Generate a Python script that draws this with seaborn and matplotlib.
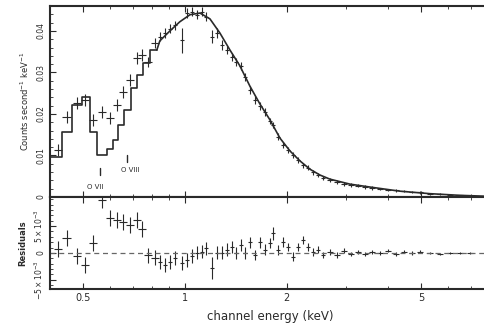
import matplotlib
matplotlib.use("Agg")
import matplotlib.pyplot as plt
import seaborn as sns
from matplotlib.ticker import FixedLocator, MultipleLocator, NullFormatter, FixedFormatter

# ---------------- data ----------------
energy = [0.421, 0.447, 0.479, 0.506, 0.534, 0.568, 0.600, 0.629, 0.655, 0.688, 0.721, 0.746, 0.777, 0.815,
          0.843, 0.873, 0.903, 0.934, 0.980, 1.014, 1.049, 1.085, 1.123, 1.154,
          1.202, 1.244, 1.287, 1.331, 1.378, 1.416, 1.465, 1.505, 1.557, 1.611,
          1.667, 1.725, 1.784, 1.821, 1.884, 1.950, 2.017, 2.087, 2.160, 2.235,
          2.312, 2.392, 2.475, 2.561,
          2.685, 2.817, 2.954, 3.098, 3.250, 3.408, 3.575, 3.776, 3.988, 4.212,
          4.448, 4.698, 4.962, 5.308, 5.678, 6.081, 6.511, 6.969]
energy_halfwidth = [0.012, 0.013, 0.013, 0.014, 0.015, 0.016, 0.017, 0.018, 0.018, 0.019, 0.020, 0.021, 0.022, 0.023,
                    0.013, 0.013, 0.014, 0.014, 0.015, 0.015, 0.016, 0.016, 0.017, 0.017,
                    0.018, 0.019, 0.019, 0.020, 0.021, 0.021, 0.022, 0.023, 0.023, 0.024,
                    0.025, 0.026, 0.027, 0.027, 0.028, 0.029, 0.030, 0.031, 0.032, 0.034,
                    0.035, 0.036, 0.037, 0.038,
                    0.054, 0.056, 0.059, 0.062, 0.065, 0.068, 0.072, 0.076, 0.080, 0.084,
                    0.089, 0.094, 0.099, 0.106, 0.114, 0.122, 0.130, 0.139]
counts = [0.0113, 0.0193, 0.0227, 0.0234, 0.0186, 0.0205, 0.0190, 0.0222, 0.0253, 0.0282, 0.0335, 0.0342, 0.0325, 0.0371,
          0.0386, 0.0395, 0.0405, 0.0414, 0.0378, 0.0443, 0.0446, 0.0439, 0.0446, 0.0434,
          0.0386, 0.0395, 0.0366, 0.0354, 0.0337, 0.0325, 0.0316, 0.0289, 0.0258, 0.0234,
          0.0219, 0.0205, 0.0183, 0.0173, 0.0145, 0.0125, 0.0113, 0.0101, 0.0089, 0.0077,
          0.0070, 0.0060, 0.0053, 0.0046,
          0.0041, 0.0036, 0.0031, 0.0029, 0.0027, 0.0024, 0.0022, 0.0019, 0.0017, 0.0016,
          0.0014, 0.0012, 0.0011, 0.0008, 0.0007, 0.0005, 0.0004, 0.0002]
counts_err = [0.0014, 0.0014, 0.0014, 0.0014, 0.0014, 0.0014, 0.0014, 0.0014, 0.0014, 0.0014, 0.0014, 0.0014, 0.0013, 0.0013,
              0.0011, 0.0011, 0.0011, 0.0011, 0.0030, 0.0011, 0.0011, 0.0011, 0.0011, 0.0011,
              0.0015, 0.0011, 0.0011, 0.0010, 0.0010, 0.0010, 0.0010, 0.0010, 0.0009, 0.0009,
              0.0009, 0.0009, 0.0008, 0.0008, 0.0008, 0.0008, 0.0007, 0.0007, 0.0007, 0.0006,
              0.0006, 0.0006, 0.0005, 0.0005,
              0.0005, 0.0005, 0.0004, 0.0004, 0.0004, 0.0004, 0.0004, 0.0003, 0.0003, 0.0003,
              0.0003, 0.0003, 0.0003, 0.0002, 0.0002, 0.0002, 0.0002, 0.0002]
residual = [0.0007, 0.0028, -0.0006, -0.0022, 0.0018, 0.0098, 0.0065, 0.0061, 0.0057, 0.0052, 0.0061, 0.0044, -0.0004, -0.0009,
            -0.0017, -0.0022, -0.0017, -0.0009, -0.0019, -0.0013, -0.0006, 0.0000, 0.0002, 0.0009,
            -0.0028, 0.0000, 0.0000, 0.0006, 0.0011, 0.0000, 0.0015, 0.0000, 0.0020, -0.0004,
            0.0020, 0.0006, 0.0019, 0.0037, 0.0006, 0.0020, 0.0011, -0.0007, 0.0011, 0.0024,
            0.0011, 0.0002, 0.0006, -0.0004,
            0.0002, -0.0004, 0.0004, -0.0002, 0.0002, -0.0002, 0.0002, 0.0000, 0.0004, -0.0002,
            0.0002, 0.0000, 0.0002, 0.0000, -0.0002, 0.0000, 0.0000, 0.0000]
residual_err = [0.0015, 0.0015, 0.0015, 0.0015, 0.0015, 0.0015, 0.0015, 0.0015, 0.0015, 0.0015, 0.0015, 0.0015, 0.0014, 0.0014,
                0.0013, 0.0013, 0.0013, 0.0013, 0.0013, 0.0013, 0.0013, 0.0012, 0.0012, 0.0012,
                0.0020, 0.0012, 0.0012, 0.0012, 0.0011, 0.0011, 0.0011, 0.0011, 0.0010, 0.0010,
                0.0010, 0.0010, 0.0009, 0.0012, 0.0009, 0.0009, 0.0008, 0.0008, 0.0008, 0.0008,
                0.0007, 0.0007, 0.0006, 0.0006,
                0.0005, 0.0005, 0.0005, 0.0004, 0.0004, 0.0004, 0.0004, 0.0003, 0.0003, 0.0003,
                0.0003, 0.0003, 0.0003, 0.0002, 0.0002, 0.0002, 0.0002, 0.0002]

model_step_edges = [0.399, 0.433, 0.463, 0.496, 0.524, 0.549, 0.588, 0.612, 0.634, 0.660, 0.692, 0.721, 0.751, 0.788, 0.826]
model_step_values = [0.0096, 0.0157, 0.0222, 0.0241, 0.0157, 0.0101, 0.0116, 0.0137, 0.0173, 0.0210, 0.0263, 0.0294, 0.0323, 0.0354]
model_line_energy = [0.826, 0.843, 0.903, 0.966, 1.035, 1.108, 1.186, 1.269, 1.359, 1.454, 1.557, 1.667, 1.784,
                     1.910, 2.045, 2.189, 2.343, 2.508, 2.685, 3.077, 3.526, 4.326, 5.307, 6.511, 7.665, 8.0]
model_line_values = [0.0354, 0.0376, 0.0400, 0.0422, 0.0439, 0.0443, 0.0429, 0.0395, 0.0354, 0.0316, 0.0267, 0.0224, 0.0186,
                     0.0142, 0.0111, 0.0087, 0.0067, 0.0053, 0.0043, 0.0031, 0.0024, 0.0014, 0.0008, 0.0004, 0.0002, 0.0002]

line_labels = ["O VII", "O VIII"]
line_energies = [0.560, 0.674]

x_ticks = [0.5, 1, 2, 5]
x_tick_labels = ["0.5", "1", "2", "5"]
x_minor = [0.4, 0.6, 0.7, 0.8, 0.9, 3, 4, 6, 7, 8]
y_ticks_top = [0, 0.01, 0.02, 0.03, 0.04]
y_tick_labels_top = ["0", "0.01", "0.02", "0.03", "0.04"]
y_ticks_res = [-0.005, 0, 0.005]
y_tick_labels_res = [r"$-5\times10^{-3}$", "0", r"$5\times10^{-3}$"]

# ---------------- figure ----------------
sns.set_style("ticks")
plt.rcParams["font.family"] = ["DejaVu Sans"]
ink = "#2a2a2a"

fig = plt.figure(figsize=(4.84, 3.30), dpi=100)
W, H = 484.0, 330.0
x0, x1 = 50, 490.2
ax = fig.add_axes([x0 / W, 1 - 197 / H, (x1 - x0) / W, (197 - 6) / H])
axr = fig.add_axes([x0 / W, 1 - 289 / H, (x1 - x0) / W, (289 - 197) / H], sharex=ax)

# model: step part then smooth part
step_y = model_step_values + [model_step_values[-1]]
sns.lineplot(x=model_step_edges, y=step_y, ax=ax, color=ink, lw=1.2,
             drawstyle="steps-post", sort=False, estimator=None)
sns.lineplot(x=model_line_energy, y=model_line_values, ax=ax, color=ink, lw=1.2,
             sort=False, estimator=None)

ax.errorbar(energy, counts, xerr=energy_halfwidth, yerr=counts_err, fmt="none",
            ecolor=ink, elinewidth=0.8, capsize=0)
axr.errorbar(energy, residual, xerr=energy_halfwidth, yerr=residual_err, fmt="none",
             ecolor=ink, elinewidth=0.8, capsize=0)
axr.axhline(0, color="#666666", lw=0.9, ls=(0, (4, 3)))

# line markers
ax.plot([line_energies[0]] * 2, [0.0053, 0.0070], color=ink, lw=1.0)
ax.plot([line_energies[1]] * 2, [0.0084, 0.0101], color=ink, lw=1.0)
ax.text(0.541, 0.0024, line_labels[0], fontsize=5, ha="center", va="center", color=ink)
ax.text(0.690, 0.0065, line_labels[1], fontsize=5, ha="center", va="center", color=ink)

for a in (ax, axr):
    a.set_xscale("log")
    a.set_xlim(0.399, 8.0)
    for s in a.spines.values():
        s.set_color(ink)
        s.set_linewidth(1.5)
    a.tick_params(which="both", direction="in", top=True, right=True, colors=ink, labelsize=5.5)
    a.tick_params(which="major", length=4, width=0.8)
    a.tick_params(which="minor", length=2, width=0.6)
    a.xaxis.set_major_locator(FixedLocator(x_ticks))
    a.xaxis.set_minor_locator(FixedLocator(x_minor))
    a.xaxis.set_minor_formatter(NullFormatter())

ax.set_ylim(0, 0.046)
ax.yaxis.set_major_locator(FixedLocator(y_ticks_top))
ax.yaxis.set_major_formatter(FixedFormatter(y_tick_labels_top))
ax.yaxis.set_minor_locator(MultipleLocator(0.002))
ax.tick_params(axis="x", labelbottom=False)
for t in ax.get_yticklabels():
    t.set_rotation(90)
    t.set_va("center")
ax.set_ylabel(r"Counts second$^{-1}$ keV$^{-1}$", fontsize=6, color=ink, labelpad=4)

axr.set_ylim(-0.0067, 0.0104)
axr.yaxis.set_major_locator(FixedLocator(y_ticks_res))
axr.yaxis.set_major_formatter(FixedFormatter(y_tick_labels_res))
axr.yaxis.set_minor_locator(MultipleLocator(0.001))
axr.xaxis.set_major_formatter(FixedFormatter(x_tick_labels))
axr.tick_params(axis="x", labelsize=7, pad=3)
for t in axr.get_yticklabels():
    t.set_rotation(90)
    t.set_va("center")
axr.set_ylabel("Residuals", fontsize=6, fontweight="bold", color=ink, labelpad=4)
axr.set_xlabel("channel energy (keV)", fontsize=8.5, color=ink, labelpad=5)

fig.savefig("out.png", dpi=100)
